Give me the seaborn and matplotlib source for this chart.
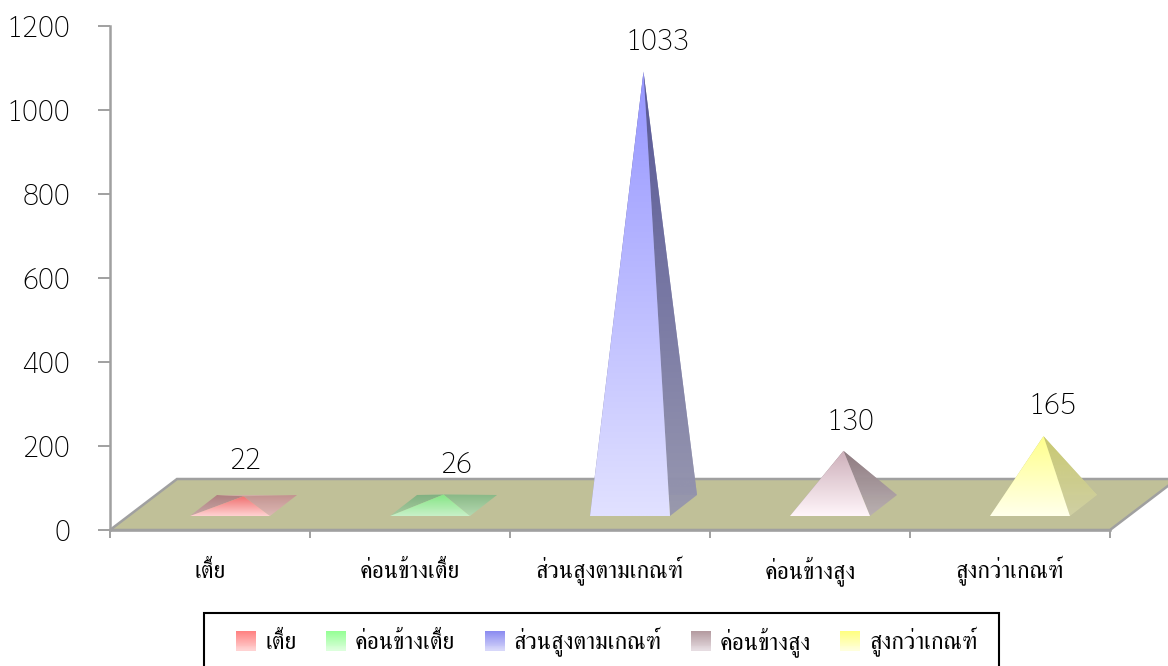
# -*- coding: utf-8 -*-
import matplotlib
matplotlib.use("Agg")
import matplotlib.pyplot as plt
import numpy as np
import seaborn as sns
from matplotlib.font_manager import FontProperties
from matplotlib.legend_handler import HandlerPatch
from matplotlib.patches import Patch, Polygon, Rectangle
from matplotlib.colors import to_rgba

#%% Data
categories = ["เตี้ย", "ค่อนข้างเตี้ย", "ส่วนสูงตามเกณฑ์", "ค่อนข้างสูง", "สูงกว่าเกณฑ์"]
values = [22, 26, 1033, 130, 165]
y_ticks = [0, 200, 400, 600, 800, 1000, 1200]

#%% Style
front_top = ["#f07070", "#84e684", "#9696ff", "#cdafb9", "#ffff8c"]
front_bot = ["#ffd2d2", "#c8f0c8", "#e1e1ff", "#fff5fa", "#ffffeb"]
right_top = ["#c49090", "#84b884", "#555596", "#8c787d", "#c8c86e"]
right_bot = ["#e0b8b8", "#b4dcb4", "#9696af", "#b9afb4", "#d2d2a5"]
left_top = ["#b08080", "#80b080", "#555596", "#8c787d", "#c8c86e"]
left_bot = ["#c8a8a8", "#a8cca0", "#9696af", "#b9afb4", "#d2d2a5"]
swatch_top = ["#ff8282", "#96ff96", "#8c8cf0", "#b49ba0", "#ffff82"]
swatch_bot = ["#ffd2d2", "#dcffdc", "#d7d7fa", "#e6dce1", "#ffffdc"]
label_dx = [2, 13, 14, 7, 9]  # px, offset of value labels from the apex
label_dy = [35, 29, 29, 28, 30]

floor_color = "#c0c098"
axis_color = "#a0a0a0"
thai_font = FontProperties(family=["FreeSerif", "DejaVu Sans"], size=17)
num_font = FontProperties(family=["Sarabun", "DejaVu Sans"], weight="light", size=21.5)

sns.set_style("white")

W, H = 1168, 666
fig = plt.figure(figsize=(W / 100, H / 100), dpi=100)
ax = fig.add_axes([110 / W, (H - 530) / H, 1000 / W, 504 / H])

#%% Bars give the positions, pyramids are drawn on top of them
sns.barplot(x=categories, y=values, hue=categories, palette=swatch_top,
            width=0.4, legend=False, ax=ax)
bars = sorted(ax.patches, key=lambda b: b.get_x())
for b in bars:
    b.set_visible(False)

ax.set_xlim(-0.5, 4.5)
ax.set_ylim(0, 1200)

unit_x = 200.0  # px per category
unit_y = 0.42   # px per value


def face(pts, top, bot, z, alpha=1.0):
    # vertical gradient clipped to a polygon
    pts = np.array(pts)
    c0, c1 = np.array(to_rgba(top)), np.array(to_rgba(bot))
    t = np.linspace(0, 1, 128)[:, None]
    img = (c0 * (1 - t) + c1 * t)[:, None, :]
    img[..., 3] = alpha
    im = ax.imshow(img, aspect="auto", zorder=z, interpolation="bilinear",
                   extent=[pts[:, 0].min(), pts[:, 0].max(), pts[:, 1].min(), pts[:, 1].max()])
    im.set_clip_path(Polygon(pts, transform=ax.transData))


#%% Floor
depth_x, depth_y = 67 / unit_x, 51 / unit_y
x0, x1 = ax.get_xlim()
ax.add_patch(Polygon([(x0, 0), (x1, 0), (x1 + depth_x, depth_y), (x0 + depth_x, depth_y)],
                     closed=True, facecolor=floor_color, edgecolor=axis_color,
                     linewidth=1.8, clip_on=False, zorder=1))

#%% Pyramids
shift = 20 / unit_x
bx, by = 27 / unit_x, 21 / unit_y
yf = 14 / unit_y
for i, b in enumerate(bars):
    xl = b.get_x() + shift
    xr = xl + b.get_width()
    apex = ((xl + xr + bx) / 2, yf + by / 2 + b.get_height())
    fl, fr = (xl, yf), (xr, yf)
    bl, br = (xl + bx, yf + by), (xr + bx, yf + by)
    z = 2 + i
    face([fl, bl, apex], left_top[i], left_bot[i], z)
    face([bl, br, apex], left_top[i], right_bot[i], z + 0.1, alpha=0.8)
    face([fr, br, apex], right_top[i], right_bot[i], z + 0.2, alpha=0.92)
    face([fl, fr, apex], front_top[i], front_bot[i], z + 0.3)
    ax.annotate(str(values[i]), xy=apex, xytext=(label_dx[i] * 0.72, label_dy[i] * 0.72),
                textcoords="offset points", ha="center", va="center", fontproperties=num_font,
                color="black", annotation_clip=False, zorder=20)

ax.set_xlim(x0, x1)
ax.set_ylim(0, 1200)

#%% Axes
sns.despine(ax=ax, top=True, right=True)
for s in ["left", "bottom"]:
    ax.spines[s].set_color(axis_color)
    ax.spines[s].set_linewidth(1.8)
    ax.spines[s].set_zorder(1.5)
ax.patch.set_alpha(0)
ax.set_yticks(y_ticks)
ax.tick_params(axis="y", length=8.6, width=1.4, color=axis_color, pad=20, left=True, labelcolor="black")
ax.set_xticks(range(len(categories)))
ax.set_xticklabels(categories)
ax.tick_params(axis="x", which="major", length=0, pad=34.5, labelcolor="black")
ax.set_xticks(np.arange(-0.5, 5, 1), minor=True)
ax.tick_params(axis="x", which="minor", length=6, width=1.4, color=axis_color, bottom=True)
for t in ax.get_yticklabels():
    t.set_fontproperties(num_font)
for t in ax.get_xticklabels():
    t.set_fontproperties(thai_font)
    t.set_verticalalignment("baseline")
ax.set_xlabel("")
ax.set_ylabel("")

#%% Legend
class GradientHandler(HandlerPatch):
    # swatch filled with thin stacked strips
    def create_artists(self, legend, orig_handle, xdescent, ydescent, width, height, fontsize, trans):
        top, bot = orig_handle.grad
        arts = []
        n = 20
        for k in range(n):
            t = k / (n - 1)
            col = np.array(to_rgba(top)) * (1 - t) + np.array(to_rgba(bot)) * t
            arts.append(Rectangle((-xdescent, -ydescent + height * (1 - (k + 1) / n)), width,
                                  height / n + 0.2, facecolor=col, edgecolor="none", transform=trans))
        return arts


handles = []
for i, c in enumerate(categories):
    p = Patch(label=c)
    p.grad = (swatch_top[i], swatch_bot[i])
    handles.append(p)

fig.add_artist(Rectangle((204 / W, (H - 671) / H), 795 / W, 58 / H, transform=fig.transFigure,
                         facecolor="white", edgecolor="black", linewidth=1.5))
leg = fig.legend(handles=handles, ncol=5, loc="center", bbox_to_anchor=(607 / W, (H - 642) / H),
                 frameon=False, prop=thai_font, handlelength=0.85, handleheight=0.85,
                 handletextpad=0.38, columnspacing=1.24, borderpad=0, borderaxespad=0,
                 handler_map={Patch: GradientHandler()})
for t in leg.get_texts():
    t.set_color("black")

fig.savefig("out.png", dpi=100)
